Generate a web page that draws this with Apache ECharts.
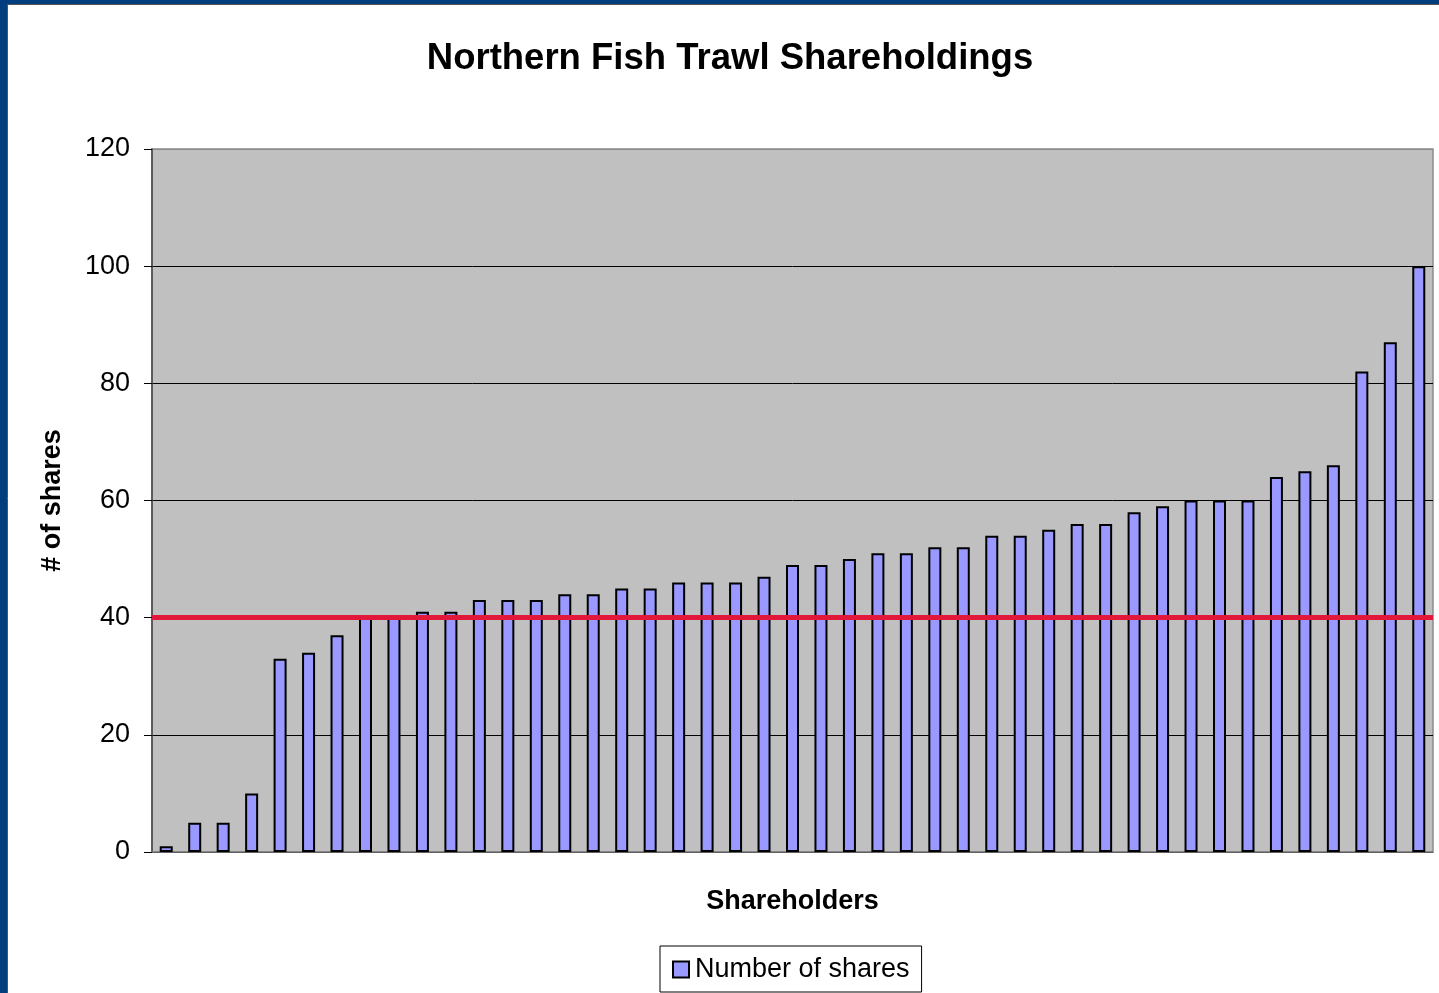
<!DOCTYPE html>
<html>
<head>
<meta charset="utf-8">
<script src="https://cdn.jsdelivr.net/npm/echarts@6/dist/echarts.min.js"></script>
<style>
  html, body { margin: 0; padding: 0; background: #fff; }
  #chart { width: 1439px; height: 993px; }
</style>
</head>
<body>
<div id="chart"></div>
<script>
// shareholders, sorted by holding
const holders = Array.from({ length: 45 }, (_, i) => 'S' + (i + 1))
const shares = [1, 5, 5, 10, 33, 34, 37, 40, 40, 41, 41, 43, 43, 43, 44, 44, 45, 45, 46, 46, 46, 47, 49, 49, 50, 51, 51, 52, 52, 54, 54, 55, 56, 56, 58, 59, 60, 60, 60, 64, 65, 66, 82, 87, 100]
const yTicks = [0, 20, 40, 60, 80, 100, 120]
const threshold = 40

const font = '"Liberation Sans", Arial, sans-serif'
const chart = echarts.init(document.getElementById('chart'))
chart.setOption({
  animation: false,
  textStyle: { fontFamily: font, color: '#000' },
  title: {
    text: 'Northern Fish Trawl Shareholdings',
    left: 725,
    textAlign: 'center',
    top: 35,
    textStyle: { fontSize: 36.5, fontWeight: 'bold', color: '#000', fontFamily: font },
  },
  graphic: [
    { type: 'rect', shape: { x: 0, y: 0, width: 7, height: 993 }, style: { fill: '#003E7E' } },
    { type: 'rect', shape: { x: 0, y: 0, width: 1439, height: 4 }, style: { fill: '#003E7E' } },
    { type: 'line', shape: { x1: 7.5, y1: 4.5, x2: 7.5, y2: 993 }, style: { stroke: '#555', lineWidth: 1 } },
    { type: 'line', shape: { x1: 7, y1: 4.5, x2: 1439, y2: 4.5 }, style: { stroke: '#555', lineWidth: 1 } },
  ],
  legend: {
    left: 660,
    top: 946,
    padding: [10, 12, 9, 12],
    borderColor: '#000',
    borderWidth: 1,
    itemWidth: 16,
    itemHeight: 16,
    itemGap: 8,
    textStyle: { fontSize: 27, fontFamily: font, color: '#000', padding: [0, 0, 0, 1] },
    data: [{ name: 'Number of shares', icon: 'rect' }],
  },
  grid: {
    left: 152,
    top: 149,
    right: 6,
    bottom: 141,
    show: true,
    backgroundColor: '#C0C0C0',
    borderColor: '#8C8C8C',
    borderWidth: 1.5,
  },
  xAxis: {
    type: 'category',
    data: holders,
    name: 'Shareholders',
    nameLocation: 'middle',
    nameGap: 36,
    nameTextStyle: { fontSize: 27, fontWeight: 'bold', fontFamily: font, color: '#000' },
    axisLine: { lineStyle: { color: '#808080', width: 1.5 } },
    axisTick: { show: false },
    axisLabel: { show: false },
  },
  yAxis: {
    type: 'value',
    min: yTicks[0],
    max: yTicks[yTicks.length - 1],
    interval: 20,
    name: '# of shares',
    nameLocation: 'middle',
    nameRotate: 90,
    nameGap: 86,
    nameTextStyle: { fontSize: 27, fontWeight: 'bold', fontFamily: font, color: '#000' },
    axisLine: { show: true, lineStyle: { color: '#444', width: 1.5 } },
    axisTick: { show: true, length: 8, lineStyle: { color: '#000' } },
    axisLabel: { fontSize: 27, margin: 22, color: '#000', fontFamily: font, padding: [4, 0, 0, 0] },
    splitLine: { lineStyle: { color: ['#000', '#000', '#000', '#000', '#000', '#000', '#8C8C8C'], width: 1 } },
  },
  series: [
    {
      name: 'Number of shares',
      type: 'bar',
      data: shares,
      barWidth: 13,
      itemStyle: { color: '#9999FF', borderColor: '#000', borderWidth: 2 },
      markLine: {
        silent: true,
        symbol: 'none',
        label: { show: false },
        lineStyle: { color: '#E2183B', width: 5, type: 'solid' },
        data: [{ yAxis: threshold }],
      },
    },
  ],
})
</script>
</body>
</html>
